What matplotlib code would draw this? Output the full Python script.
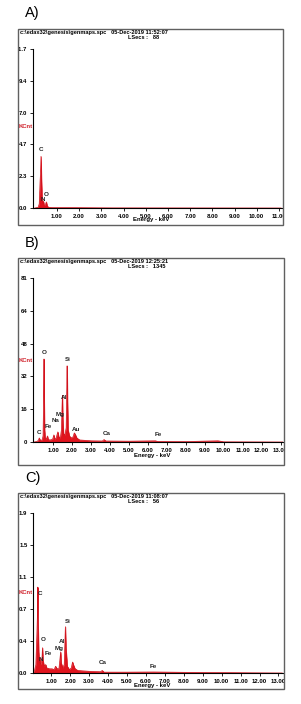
import matplotlib
matplotlib.use("Agg")
import matplotlib.pyplot as plt
from matplotlib.patches import Rectangle

plt.rcParams['font.family'] = ['Liberation Sans', 'DejaVu Sans']

FIG_W = 301
FIG_H = 704

# panel A
a_energy = [0.00, 0.15, 0.20, 0.24, 0.26, 0.28, 0.30, 0.33, 0.37, 0.39, 0.42,
            0.47, 0.52, 0.56, 0.62, 0.80, 1.50, 2.50, 3.50, 11.10]
a_counts = [0.0, 0.05, 0.3, 2.0, 2.6, 3.8, 2.2, 0.6, 0.3, 0.5, 0.2,
            0.2, 0.45, 0.15, 0.05, 0.03, 0.03, 0.02, 0.01, 0.0]
a_yticks = [0.0, 2.34, 4.68, 7.02, 9.36, 11.7]
a_ylabels = ["0.0", "2.3", "4.7", "7.0", "9.4", "11.7"]
a_elements = ["C", "N", "O"]
a_elem_x = [0.27, 0.34, 0.51]
a_elem_y = [4.3, 0.62, 1.0]

# panel B
b_energy = [0.00, 0.15, 0.22, 0.27, 0.29, 0.33, 0.42, 0.47, 0.50, 0.52, 0.53,
            0.55, 0.58, 0.65, 0.70, 0.74, 0.85, 0.98, 1.04, 1.08, 1.16, 1.25,
            1.30, 1.38, 1.44, 1.47, 1.49, 1.51, 1.55, 1.62, 1.69, 1.72, 1.74,
            1.76, 1.79, 1.86, 1.95, 2.05, 2.12, 2.18, 2.25, 2.40, 3.00, 3.60,
            3.69, 3.78, 5.00, 6.40, 6.50, 8.00, 9.70, 10.00, 13.20]
b_counts = [0, 0.3, 0.8, 2.0, 1.5, 0.8, 1, 3, 21, 41, 22,
            6, 2, 1.5, 3, 1.2, 1, 1.5, 3.5, 1.5, 2, 5,
            2.5, 2, 6, 17, 23, 12, 4, 3.5, 7, 26, 37.6,
            20, 6, 3, 2, 2.5, 4.5, 3.5, 2, 1, 0.6, 0.5,
            1.2, 0.5, 0.4, 0.6, 0.3, 0.2, 0.6, 0.1, 0]
b_yticks = [0, 16.2, 32.4, 48.6, 64.8, 81]
b_ylabels = ["0", "16", "32", "48", "64", "81"]
b_elements = ["O", "Si", "Al", "Mg", "Na", "Fe", "C", "Au", "Ca", "Fe"]
b_elem_x = [0.52, 1.79, 1.56, 1.35, 1.14, 0.73, 0.26, 2.23, 3.82, 6.54]
b_elem_y = [44.4, 40.9, 21.9, 13.4, 10.4, 7.6, 4.8, 6.3, 4.0, 3.5]

# panel C
c_energy = [0.00, 0.10, 0.18, 0.24, 0.27, 0.28, 0.30, 0.33, 0.37, 0.39, 0.42,
            0.47, 0.51, 0.53, 0.56, 0.62, 0.70, 0.75, 0.90, 1.04, 1.15, 1.22,
            1.25, 1.30, 1.40, 1.46, 1.49, 1.52, 1.60, 1.68, 1.72, 1.74, 1.77,
            1.84, 1.95, 2.05, 2.12, 2.16, 2.25, 2.40, 3.00, 3.60, 3.69, 3.78,
            5.00, 6.40, 8.00, 13.20]
c_counts = [0, 0.02, 0.1, 0.5, 0.75, 1.02, 0.6, 0.25, 0.12, 0.18, 0.1,
            0.12, 0.2, 0.30, 0.15, 0.08, 0.1, 0.06, 0.05, 0.05, 0.04, 0.08,
            0.07, 0.05, 0.05, 0.18, 0.25, 0.12, 0.06, 0.1, 0.4, 0.55, 0.3,
            0.08, 0.04, 0.06, 0.13, 0.10, 0.05, 0.03, 0.02, 0.015, 0.03, 0.01,
            0.01, 0.012, 0.008, 0]
c_yticks = [0.0, 0.38, 0.76, 1.14, 1.52, 1.9]
c_ylabels = ["0.0", "0.4", "0.7", "1.1", "1.5", "1.9"]
c_elements = ["C", "O", "N", "Fe", "Mg", "Al", "Si", "Ca", "Fe"]
c_elem_x = [0.40, 0.59, 0.45, 0.84, 1.40, 1.58, 1.85, 3.73, 6.38]
c_elem_y = [0.94, 0.40, 0.16, 0.23, 0.29, 0.37, 0.61, 0.12, 0.08]

x_tick_values = list(range(1, 14))


def fig_rect(left, top, right, bottom):
    # pixel box -> figure fraction [l, b, w, h]
    return [left / FIG_W, 1 - bottom / FIG_H,
            (right - left) / FIG_W, (bottom - top) / FIG_H]


def draw_panel(fig, letter, letter_y, box, ax_box, xlim, energy, counts,
               yticks, ylabels, elements, elem_x, elem_y, stamp, lsecs,
               kcnt_y, xlabel_y):
    fig.text(25 / FIG_W, 1 - letter_y / FIG_H, letter, fontsize=10.5,
             va="center", ha="left")

    rect = Rectangle((box[0] / FIG_W, 1 - box[3] / FIG_H),
                     (box[2] - box[0]) / FIG_W, (box[3] - box[1]) / FIG_H,
                     transform=fig.transFigure, fill=False,
                     edgecolor="#606060", linewidth=1.0)
    fig.patches.append(rect)

    fig.text((box[0] + 2) / FIG_W, 1 - (box[1] + 3.5) / FIG_H,
             "c:\\edax32\\genesis\\genmaps.spc   " + stamp,
             fontsize=4.1, fontweight="bold", va="center", ha="left")
    fig.text(128 / FIG_W, 1 - (box[1] + 8.5) / FIG_H, "LSecs :   " + lsecs,
             fontsize=4.1, fontweight="bold", va="center", ha="left")
    fig.text((box[0] + 0.5) / FIG_W, 1 - kcnt_y / FIG_H, "KCnt",
             fontsize=4.2, fontweight="bold", color="#d0202a",
             va="center", ha="left")

    ax = fig.add_axes(fig_rect(*ax_box))
    ax.fill_between(energy, counts, 0, color="#e0141e", linewidth=0.4)
    ax.plot(energy, counts, color="#d0101a", linewidth=0.5)

    for name, ex, ey in zip(elements, elem_x, elem_y):
        ax.text(ex, ey, name, fontsize=4.5, fontweight="bold", ha="center",
                va="center", color="#222222")

    ticks = [v for v in x_tick_values if v < xlim[1] + 0.3]
    ax.set_xticks(ticks)
    ax.set_xticklabels(["%.2f" % v for v in ticks])
    ax.set_yticks(yticks)
    ax.set_yticklabels(ylabels)
    ax.set_xlim(*xlim)
    ax.set_ylim(0, yticks[-1])
    ax.tick_params(axis="both", labelsize=4.3, length=2.5, width=0.6,
                   pad=1.5, direction="out")
    for label in ax.get_xticklabels() + ax.get_yticklabels():
        label.set_fontweight("bold")
        label.set_clip_on(True)
        label.set_clip_path(rect)
    for side in ["top", "right"]:
        ax.spines[side].set_visible(False)
    for side in ["left", "bottom"]:
        ax.spines[side].set_linewidth(0.8)
    ax.patch.set_alpha(0)

    fig.text((ax_box[0] + ax_box[2]) / 2 / FIG_W - 0.02,
             1 - xlabel_y / FIG_H, "Energy - keV", fontsize=4.3,
             fontweight="bold", ha="center", va="center")
    return ax


fig = plt.figure(figsize=(FIG_W / 100, FIG_H / 100), dpi=100)

draw_panel(fig, "A)", 13, (18, 29, 283, 225), (33, 49, 282, 208),
           (-0.08, 11.14), a_energy, a_counts, a_yticks, a_ylabels,
           a_elements, a_elem_x, a_elem_y, "05-Dec-2019 11:52:07", "88",
           127, 220)

draw_panel(fig, "B)", 243, (18, 258, 284, 465), (33, 278, 283, 442),
           (-0.06, 13.13), b_energy, b_counts, b_yticks, b_ylabels,
           b_elements, b_elem_x, b_elem_y, "05-Dec-2019 12:25:21", "1345",
           360, 455)

draw_panel(fig, "C)", 478, (18, 493, 284, 689), (33, 513, 283, 673),
           (0.03, 13.24), c_energy, c_counts, c_yticks, c_ylabels,
           c_elements, c_elem_x, c_elem_y, "05-Dec-2019 11:08:07", "56",
           592, 685)

fig.savefig("out.png", dpi=100)
